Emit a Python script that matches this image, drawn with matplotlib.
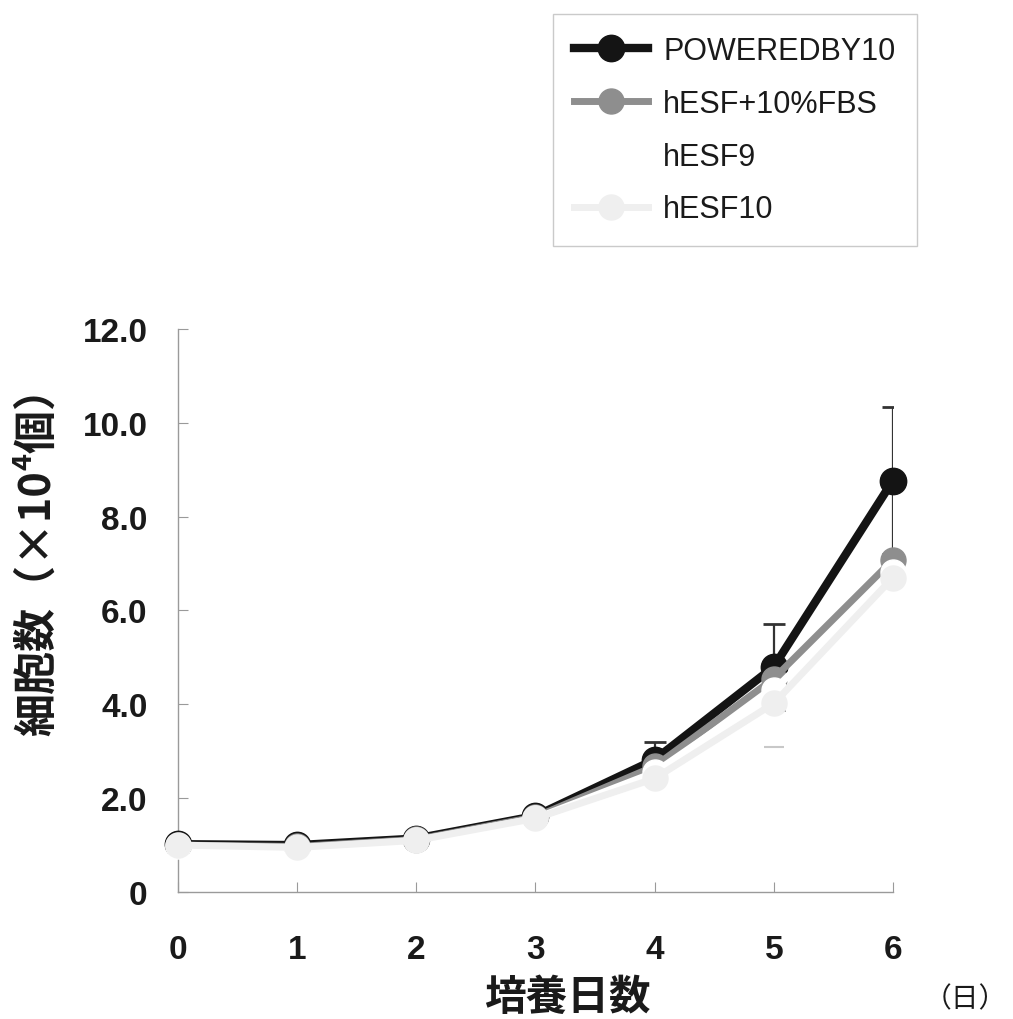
"""Cell growth curves (cell count vs. culture days) for four media."""

import matplotlib

matplotlib.use("Agg")
import matplotlib.pyplot as plt

JP = ["Noto Sans CJK JP", "DejaVu Sans"]
LATIN = ["Liberation Sans", "Noto Sans CJK JP", "DejaVu Sans"]

days = [0, 1, 2, 3, 4, 5, 6]
powered = [1.02, 1.00, 1.14, 1.62, 2.82, 4.80, 8.77]
powered_err = [0, 0, 0, 0, 0.38, 0.92, 1.57]
fbs = [1.00, 0.97, 1.12, 1.60, 2.68, 4.55, 7.08]
hesf9 = [0.98, 0.94, 1.10, 1.57, 2.55, 4.30, 6.82]
hesf10 = [1.00, 0.95, 1.10, 1.57, 2.42, 4.02, 6.70]
hesf10_err = [0, 0, 0, 0, 0, 0.92, 0]

labels = ["POWEREDBY10", "hESF+10%FBS", "hESF9", "hESF10"]
y_ticks = [0, 2, 4, 6, 8, 10, 12]
y_tick_labels = ["0", "2.0", "4.0", "6.0", "8.0", "10.0", "12.0"]

fig = plt.figure(figsize=(10.13, 10.2), dpi=100)
ax = fig.add_axes([0.1757, 0.1245, 0.7058, 0.552])

# only the lower cap of hESF10 shows in the original
lower_only = [hesf10_err, [0] * len(hesf10_err)]
_, caps, _ = ax.errorbar(days, hesf10, yerr=lower_only, fmt="none", ecolor="#ffffff",
                         elinewidth=1.5, capsize=7, capthick=1.5, zorder=1)
for c in caps:
    c.set_markeredgecolor("#c8c8c8")
    c.set_color("#c8c8c8")
ax.errorbar(days, powered, yerr=powered_err, fmt="none", ecolor="#333333",
            elinewidth=1.6, capsize=8, capthick=2, zorder=2)

series = [
    (powered, "#141414", 6.0, 19),
    (fbs, "#8e8e8e", 5.0, 18),
    (hesf9, "#ffffff", 5.0, 18),
    (hesf10, "#efefef", 5.0, 18),
]
handles = []
for i, (vals, color, lw, ms) in enumerate(series):
    (h,) = ax.plot(days, vals, "o-", color=color, lw=lw, ms=ms, mec=color,
                   label=labels[i], zorder=3 + i, clip_on=False)
    handles.append(h)

ax.set_xlim(0, 6)
ax.set_ylim(0, 12)
ax.set_xticks(days)
ax.set_yticks(y_ticks)
ax.set_yticklabels(y_tick_labels)
for s in ["top", "right"]:
    ax.spines[s].set_visible(False)
for s in ["left", "bottom"]:
    ax.spines[s].set_color("#9a9a9a")
    ax.spines[s].set_linewidth(1.0)
ax.tick_params(axis="both", direction="in", length=7, color="#9a9a9a",
               labelsize=24, labelcolor="#1a1a1a")
ax.tick_params(axis="y", pad=22)
ax.tick_params(axis="x", pad=30)
for t in ax.get_xticklabels() + ax.get_yticklabels():
    t.set_family(LATIN)
    t.set_weight("bold")

fig.text(0.037, 0.46, "細胞数（×10⁴個）", rotation=90, ha="center", va="center",
         fontsize=31, family=JP, weight="bold", color="#1a1a1a")
fig.text(0.56, 0.022, "培養日数", ha="center", va="center", fontsize=30,
         family=JP, weight="bold", color="#1a1a1a")
fig.text(0.953, 0.02, "（日）", ha="center", va="center", fontsize=20,
         family=JP, color="#1a1a1a")

leg = fig.legend(handles=handles, loc="upper left", bbox_to_anchor=(0.546, 0.985),
                 prop={"family": LATIN, "size": 22}, frameon=True, fancybox=False,
                 handlelength=2.4, labelspacing=0.75, borderpad=0.7,
                 handletextpad=0.5, borderaxespad=0)
leg.get_frame().set_edgecolor("#bdbdbd")
leg.get_frame().set_linewidth(1.0)
for t in leg.get_texts():
    t.set_color("#1a1a1a")

fig.savefig("out.png", dpi=100)
